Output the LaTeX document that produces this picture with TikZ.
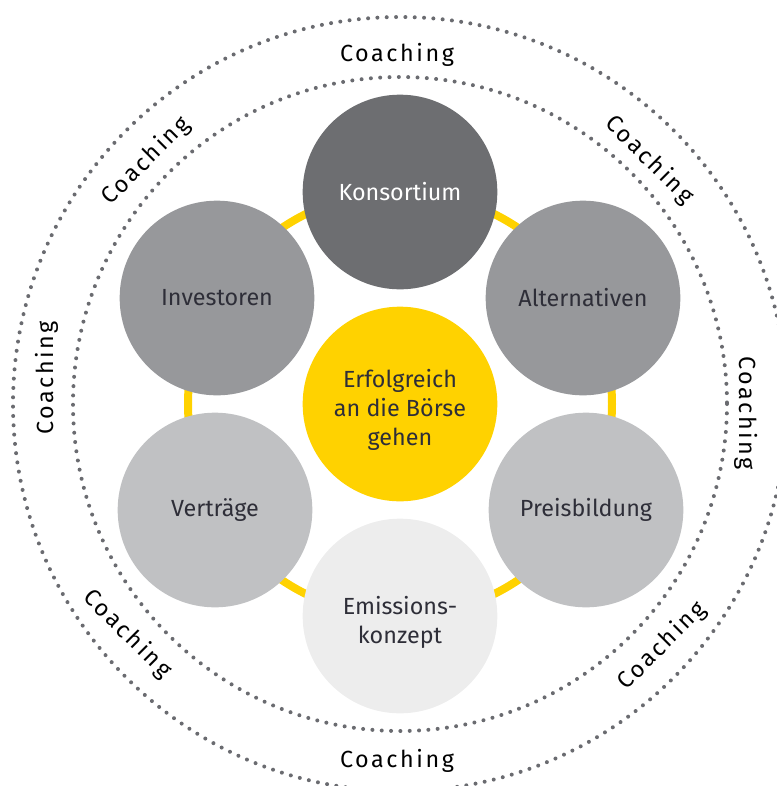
\documentclass[tikz,border=0pt]{standalone}
\usepackage{fontspec}
\setmainfont{Fira Sans}
\newfontfamily\coachfont[LetterSpace=11]{Fira Sans}
\definecolor{ringyellow}{HTML}{FFD200}
\definecolor{darkgraycirc}{HTML}{6D6E71}
\definecolor{midgraycirc}{HTML}{97989B}
\definecolor{lightgraycirc}{HTML}{C0C1C3}
\definecolor{palecirc}{HTML}{EDEDED}
\definecolor{textdark}{HTML}{2E2E38}
\definecolor{dotgray}{HTML}{6A6B70}
\begin{document}
\begin{tikzpicture}[x=0.75pt,y=-0.75pt,
  circ/.style={circle, minimum size=146pt, inner sep=0pt, align=center,
    text=textdark, font=\fontsize{17.5pt}{21.75pt}\selectfont},
  txt/.style={inner sep=0pt, align=center, text=textdark,
    font=\fontsize{17.5pt}{21.75pt}\selectfont},
  ring/.style={draw=ringyellow, line width=6pt},
  dots/.style={draw=dotgray, line width=3pt, line cap=round, dash pattern=on 0pt off 7pt},
  coach/.style={inner sep=0pt, text=black, font=\coachfont\fontsize{17.5pt}{20pt}\selectfont}]
\useasboundingbox (0,0) rectangle (777,786);
\clip (0,0) rectangle (777,786);
\coordinate (c) at (400,404);
% dotted circles
\draw[dots] (c) circle[radius=327];
\draw[dots] (c) circle[radius=387];
% yellow ring
\draw[ring] (c) circle[radius=212];
% circles
\node[circ, fill=ringyellow] (center) at (400,404) {};
\node[txt] (centertxt) at (400,410) {Erfolgreich\\an die Börse\\gehen};
\node[circ, fill=darkgraycirc, text=white] (kons) at (400,192) {Konsortium};
\node[circ, fill=midgraycirc] (inv) at (217,298) {Investoren};
\node[circ, fill=midgraycirc] (alt) at (583,298) {Alternativen};
\node[circ, fill=lightgraycirc] (vert) at (215,510) {Verträge};
\node[circ, fill=lightgraycirc] (preis) at (586,510) {Preisbildung};
\node[circ, fill=palecirc] (emis) at (400,616) {};
\node[txt] (emistxt) at (400,622) {Emissions-\\konzept};
% coaching labels
\node[coach] (co1) at (397,55) {Coaching};
\node[coach, rotate=45] (co2) at (146,161) {Coaching};
\node[coach, rotate=-45] (co3) at (649,160) {Coaching};
\node[coach, rotate=90] (co4) at (47,378) {Coaching};
\node[coach, rotate=-90] (co5) at (746,413) {Coaching};
\node[coach, rotate=-45] (co6) at (127,634) {Coaching};
\node[coach, rotate=45] (co7) at (662,646) {Coaching};
\node[coach] (co8) at (397,761) {Coaching};
\end{tikzpicture}
\end{document}
